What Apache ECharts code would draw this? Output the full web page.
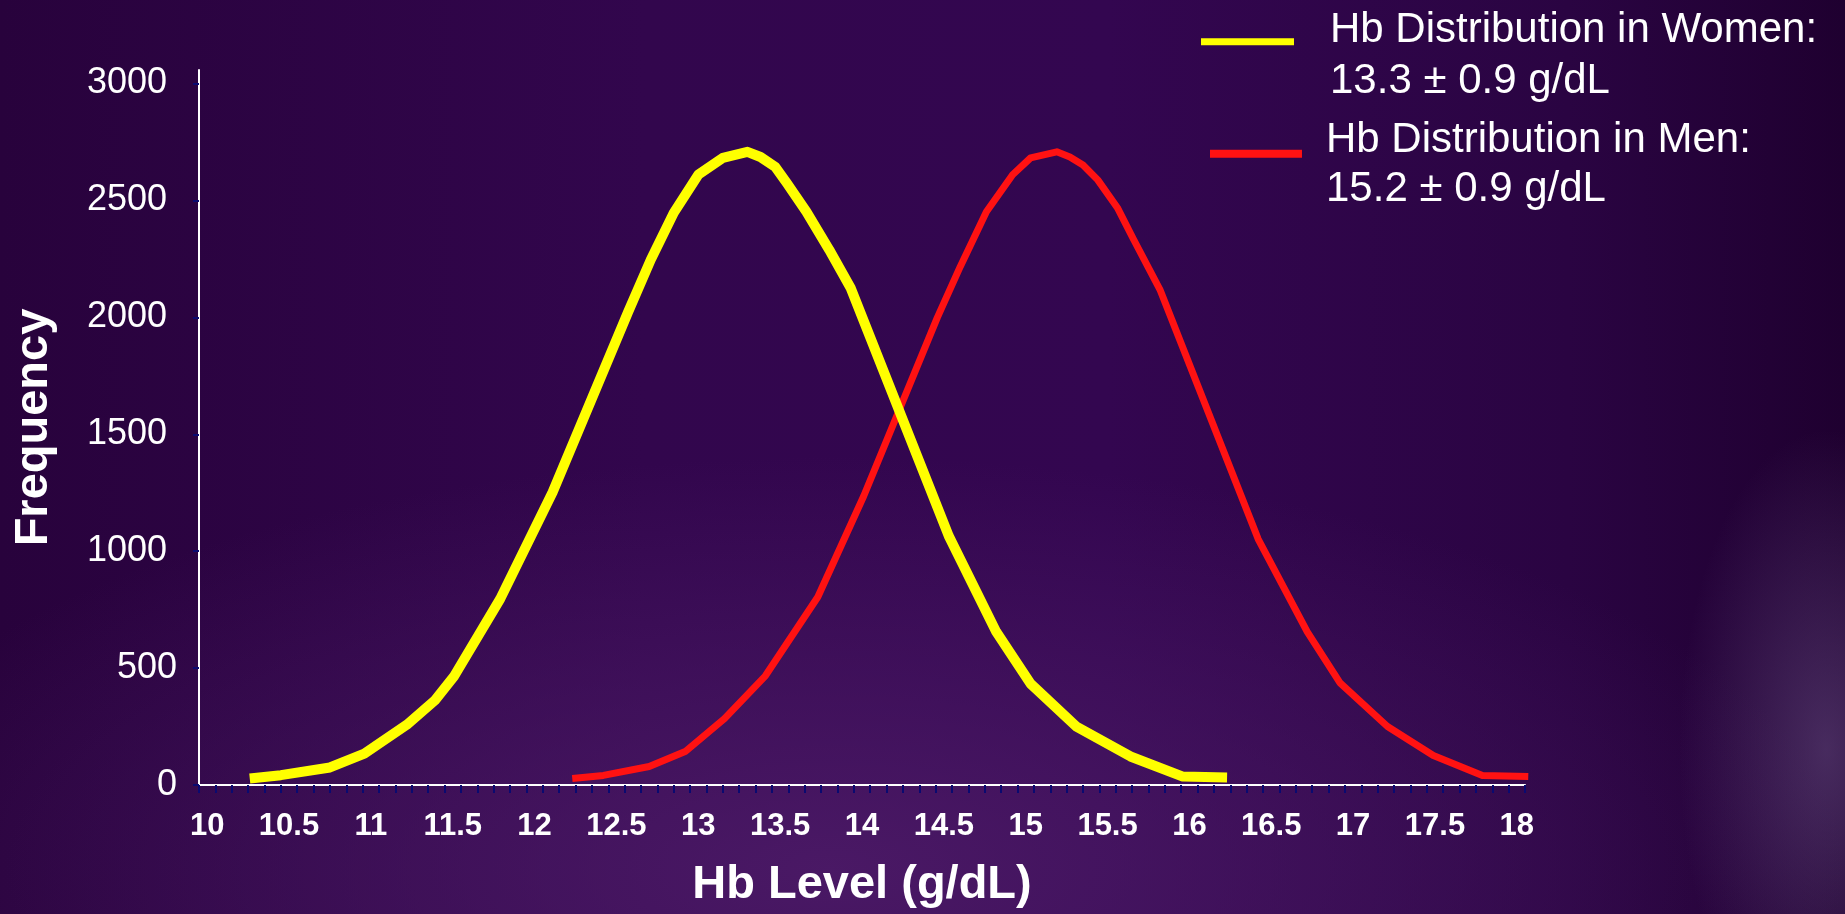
<!DOCTYPE html>
<html>
<head>
<meta charset="utf-8">
<script src="https://cdn.jsdelivr.net/npm/echarts@6/dist/echarts.min.js"></script>
<style>
  html, body { margin: 0; padding: 0; width: 1845px; height: 914px; overflow: hidden; }
  body {
    background:
      radial-gradient(ellipse 8% 35% at 99% 82%, rgba(120, 95, 150, 0.45), rgba(120, 95, 150, 0) 100%),
      radial-gradient(ellipse 55% 45% at 45% 95%, rgba(78, 28, 105, 0.85), rgba(78, 28, 105, 0) 100%),
      linear-gradient(90deg, #28023c 0%, #32064d 35%, #330650 60%, #2a0442 85%, #1f0030 100%);
  }
  #chart { width: 1845px; height: 914px; }
</style>
</head>
<body>
<div id="chart"></div>
<script>
// ---- data ----
const womenHb   = [10.26, 10.45, 10.75, 10.96, 11.22, 11.39, 11.51, 11.79, 12.11, 12.57, 12.71, 12.85, 13.00, 13.15, 13.30, 13.38, 13.47, 13.54, 13.66, 13.80, 13.93, 14.53, 14.82, 15.03, 15.31, 15.64, 15.96, 16.23];
const womenFreq = [28, 42, 75, 134, 258, 361, 467, 796, 1252, 2021, 2247, 2447, 2610, 2682, 2708, 2686, 2644, 2575, 2452, 2289, 2127, 1065, 655, 433, 250, 122, 36, 32];

const menHb   = [12.23, 12.42, 12.70, 12.92, 13.16, 13.41, 13.73, 14.01, 14.46, 14.60, 14.76, 14.92, 15.03, 15.19, 15.27, 15.35, 15.44, 15.56, 15.66, 15.82, 16.42, 16.72, 16.92, 17.21, 17.49, 17.79, 18.07];
const menFreq = [28, 41, 79, 143, 284, 467, 804, 1235, 1999, 2217, 2452, 2610, 2682, 2708, 2686, 2652, 2588, 2469, 2332, 2119, 1052, 655, 437, 250, 126, 41, 36];

const xTickLabels = [10, 10.5, 11, 11.5, 12, 12.5, 13, 13.5, 14, 14.5, 15, 15.5, 16, 16.5, 17, 17.5, 18];
const yTickLabels = [0, 500, 1000, 1500, 2000, 2500, 3000];

const seriesNames = ['Women', 'Men'];
const legendWomen = ['Hb Distribution in Women:', '13.3 \u00B1 0.9 g/dL'];
const legendMen   = ['Hb Distribution in Men:', '15.2 \u00B1 0.9 g/dL'];

const xAxisTitle = 'Hb Level (g/dL)';
const yAxisTitle = 'Frequency';

// ---- chart construction ----
const FONT = '"Liberation Sans", Arial, Helvetica, sans-serif';

// category boundaries (Excel-style tick marks between 0.1 g/dL bins)
const xBoundaries = [];
for (let k = 0; k <= 81; k++) xBoundaries.push(Math.round((9.95 + k * 0.1) * 100) / 100);

const toPairs = (xs, ys) => xs.map((x, i) => [x, ys[i]]);

const legendText = { Women: legendWomen, Men: legendMen };

function legendCfg(name, left, top, lh, iconPath, w, h) {
  return {
    data: [name],
    left: left, top: top, padding: 0,
    orient: 'vertical',
    selectedMode: false,
    itemWidth: w, itemHeight: h,
    icon: iconPath,
    formatter: n => '{a|' + legendText[n][0] + '}\n{a|' + legendText[n][1] + '}',
    textStyle: {
      color: '#ffffff', fontFamily: FONT, fontSize: 42,
      rich: { a: { color: '#ffffff', fontFamily: FONT, fontSize: 42, lineHeight: lh } }
    }
  };
}

const chart = echarts.init(document.getElementById('chart'), null, { renderer: 'canvas' });

chart.setOption({
  animation: false,
  backgroundColor: 'transparent',
  grid: { left: 199, right: 320, top: 70, bottom: 127.5, containLabel: false },
  legend: [
    legendCfg('Women', 1201, 9.4, 51, 'path://M0 0H93V7H0ZM124 35.2L124.01 35.2', 124, 35.2),
    legendCfg('Men', 1210, 119.9, 48.5, 'path://M0 0H92V8H0ZM111 30.7L111.01 30.7', 111, 30.7)
  ],
  xAxis: {
    type: 'value',
    min: 9.95, max: 18.05,
    name: xAxisTitle,
    nameLocation: 'middle',
    nameGap: 77,
    nameTextStyle: { color: '#ffffff', fontFamily: FONT, fontSize: 47, fontWeight: 'bold' },
    axisLine: { show: true, onZero: false, lineStyle: { color: '#ffffff', width: 2 } },
    axisTick: { show: true, customValues: xBoundaries, length: 8, lineStyle: { color: '#0a0a70', width: 2 } },
    axisLabel: {
      customValues: xTickLabels,
      formatter: v => String(v),
      color: '#ffffff', fontFamily: FONT, fontSize: 31, fontWeight: 'bold', margin: 26
    },
    splitLine: { show: false }
  },
  yAxis: {
    type: 'value',
    min: 0, max: 3058,
    name: yAxisTitle,
    nameLocation: 'middle',
    nameRotate: 90,
    nameGap: 141,
    nameTextStyle: { color: '#ffffff', fontFamily: FONT, fontSize: 47, fontWeight: 'bold' },
    axisLine: { show: true, lineStyle: { color: '#ffffff', width: 2 } },
    axisTick: { show: true, customValues: yTickLabels, length: 6, lineStyle: { color: '#0a0a70', width: 2 } },
    axisLabel: {
      customValues: yTickLabels,
      formatter: v => (v >= 1000 ? '{w|' + v + '}' : '{n|' + v + '}'),
      margin: 22,
      rich: {
        w: { color: '#ffffff', fontFamily: FONT, fontSize: 36, padding: [0, 10, 0, 0] },
        n: { color: '#ffffff', fontFamily: FONT, fontSize: 36 }
      }
    },
    splitLine: { show: false }
  },
  series: [
    {
      name: seriesNames[1],
      type: 'line',
      data: toPairs(menHb, menFreq),
      showSymbol: false,
      clip: false,
      color: '#ff1212',
      lineStyle: { color: '#ff1212', width: 7, join: 'round' },
      z: 2
    },
    {
      name: seriesNames[0],
      type: 'line',
      data: toPairs(womenHb, womenFreq),
      showSymbol: false,
      clip: false,
      color: '#ffff00',
      lineStyle: { color: '#ffff00', width: 10, join: 'round' },
      z: 3
    }
  ]
});
</script>
</body>
</html>
